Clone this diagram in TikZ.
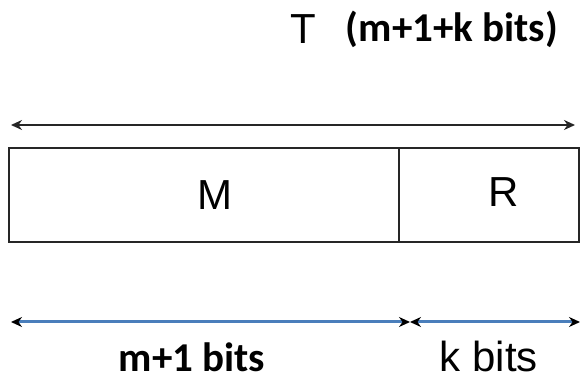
\documentclass[tikz,border=0pt]{standalone}
\usepackage{fontspec}
\setmainfont{Liberation Sans}
\newfontfamily\calfont{Carlito}
\usetikzlibrary{arrows.meta}
\definecolor{lineblue}{HTML}{4A7EBB}
\tikzset{
  cell/.style={draw=black!85, line width=1.6pt, inner sep=0pt, anchor=north west},
  arial/.style={font=\fontsize{42}{46}\selectfont, inner sep=0pt, anchor=base},
  calbold/.style={font=\calfont\bfseries\fontsize{41}{44}\selectfont, inner sep=0pt, anchor=base},
  dimtop/.style={line width=2.4pt, black!85, {Stealth[length=11pt,width=10pt]}-{Stealth[length=11pt,width=10pt]}},
  dimbot/.style={line width=3pt, lineblue, {Stealth[length=11pt,width=10pt,black]}-{Stealth[length=11pt,width=10pt,black]}}
}
\begin{document}
\begin{tikzpicture}[x=1pt,y=-1pt]
\useasboundingbox (0,0) rectangle (587,382);
% title
\node[arial] (T) at (303,44) {T};
\node[calbold] (Tbits) at (452,42) {(m+1+k bits)};
% top dimension
\coordinate (tl) at (11,125);
\coordinate (tr) at (575,125);
\draw[dimtop] (tl) -- (tr);
% boxes
\node[cell, minimum width=390pt, minimum height=94pt] (Mbox) at (8,147) {};
\node[cell, minimum width=180pt, minimum height=94pt] (Rbox) at (398,147) {};
\node[arial] (M) at (215,210) {M};
\node[arial] (R) at (504,207) {R};
% bottom dimensions
\coordinate (bl) at (11,322);
\coordinate (bm) at (410,322);
\coordinate (br) at (580,322);
\draw[dimbot] (bl) -- (bm);
\draw[dimbot] (bm) -- (br);
\node[calbold] (mbits) at (192,372) {m+1 bits};
\node[arial] (kbits) at (489,372) {k bits};
\end{tikzpicture}
\end{document}
